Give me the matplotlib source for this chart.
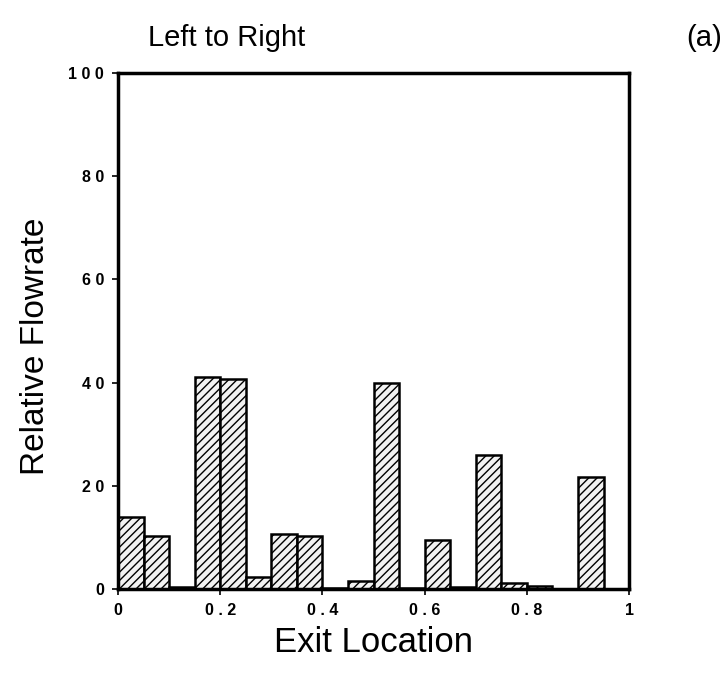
import matplotlib
matplotlib.use("Agg")
import matplotlib.pyplot as plt
import numpy as np

plt.rcParams['font.family'] = ['Liberation Sans', 'DejaVu Sans']
plt.rcParams['hatch.linewidth'] = 1.0

# exit bins along the outlet (left edge of each bin) and relative flowrate
bin_left = [0.00, 0.05, 0.10, 0.15, 0.20, 0.25, 0.30, 0.35, 0.40, 0.45,
            0.50, 0.55, 0.60, 0.65, 0.70, 0.75, 0.80, 0.85, 0.90, 0.95]
flowrate = [14.0, 10.3, 0.3, 41.1, 40.7, 2.3, 10.7, 10.3, 0.2, 1.6,
            40.0, 0.2, 9.5, 0.4, 26.0, 1.1, 0.6, 0.0, 21.7, 0.0]
bin_width = 0.05

x_ticks = [0, 0.2, 0.4, 0.6, 0.8, 1]
x_ticklabels = ["0", "0 . 2", "0 . 4", "0 . 6", "0 . 8", "1"]
y_ticks = [0, 20, 40, 60, 80, 100]
y_ticklabels = ["0", "2 0", "4 0", "6 0", "8 0", "1 0 0"]

fig = plt.figure(figsize=(7.24, 6.77), dpi=100)
ax = fig.add_axes([0.163, 0.130, 0.706, 0.762])

ax.bar(bin_left, flowrate, width=bin_width, align='edge',
       facecolor='#f2f2f2', edgecolor='black', linewidth=1.8, hatch='////')

ax.set_xlim(0, 1)
ax.set_ylim(0, 100)
ax.set_xticks(x_ticks)
ax.set_xticklabels(x_ticklabels)
ax.set_yticks(y_ticks)
ax.set_yticklabels(y_ticklabels)
for lab in ax.get_xticklabels() + ax.get_yticklabels():
    lab.set_fontweight('heavy')
    lab.set_fontsize(11.5)
ax.tick_params(axis='both', direction='out', length=4, width=1.2, pad=6)

for side in ax.spines.values():
    side.set_linewidth(2.5)

ax.set_xlabel("Exit Location", fontsize=25, labelpad=6)
ax.set_ylabel("Relative Flowrate", fontsize=24)
ax.yaxis.set_label_coords(-0.132, 0.47)

fig.text(0.204, 0.932, "Left to Right", fontsize=21, ha='left', va='baseline')
fig.text(0.997, 0.932, "(a)", fontsize=21, ha='right', va='baseline')

fig.savefig("out.png", dpi=100)
